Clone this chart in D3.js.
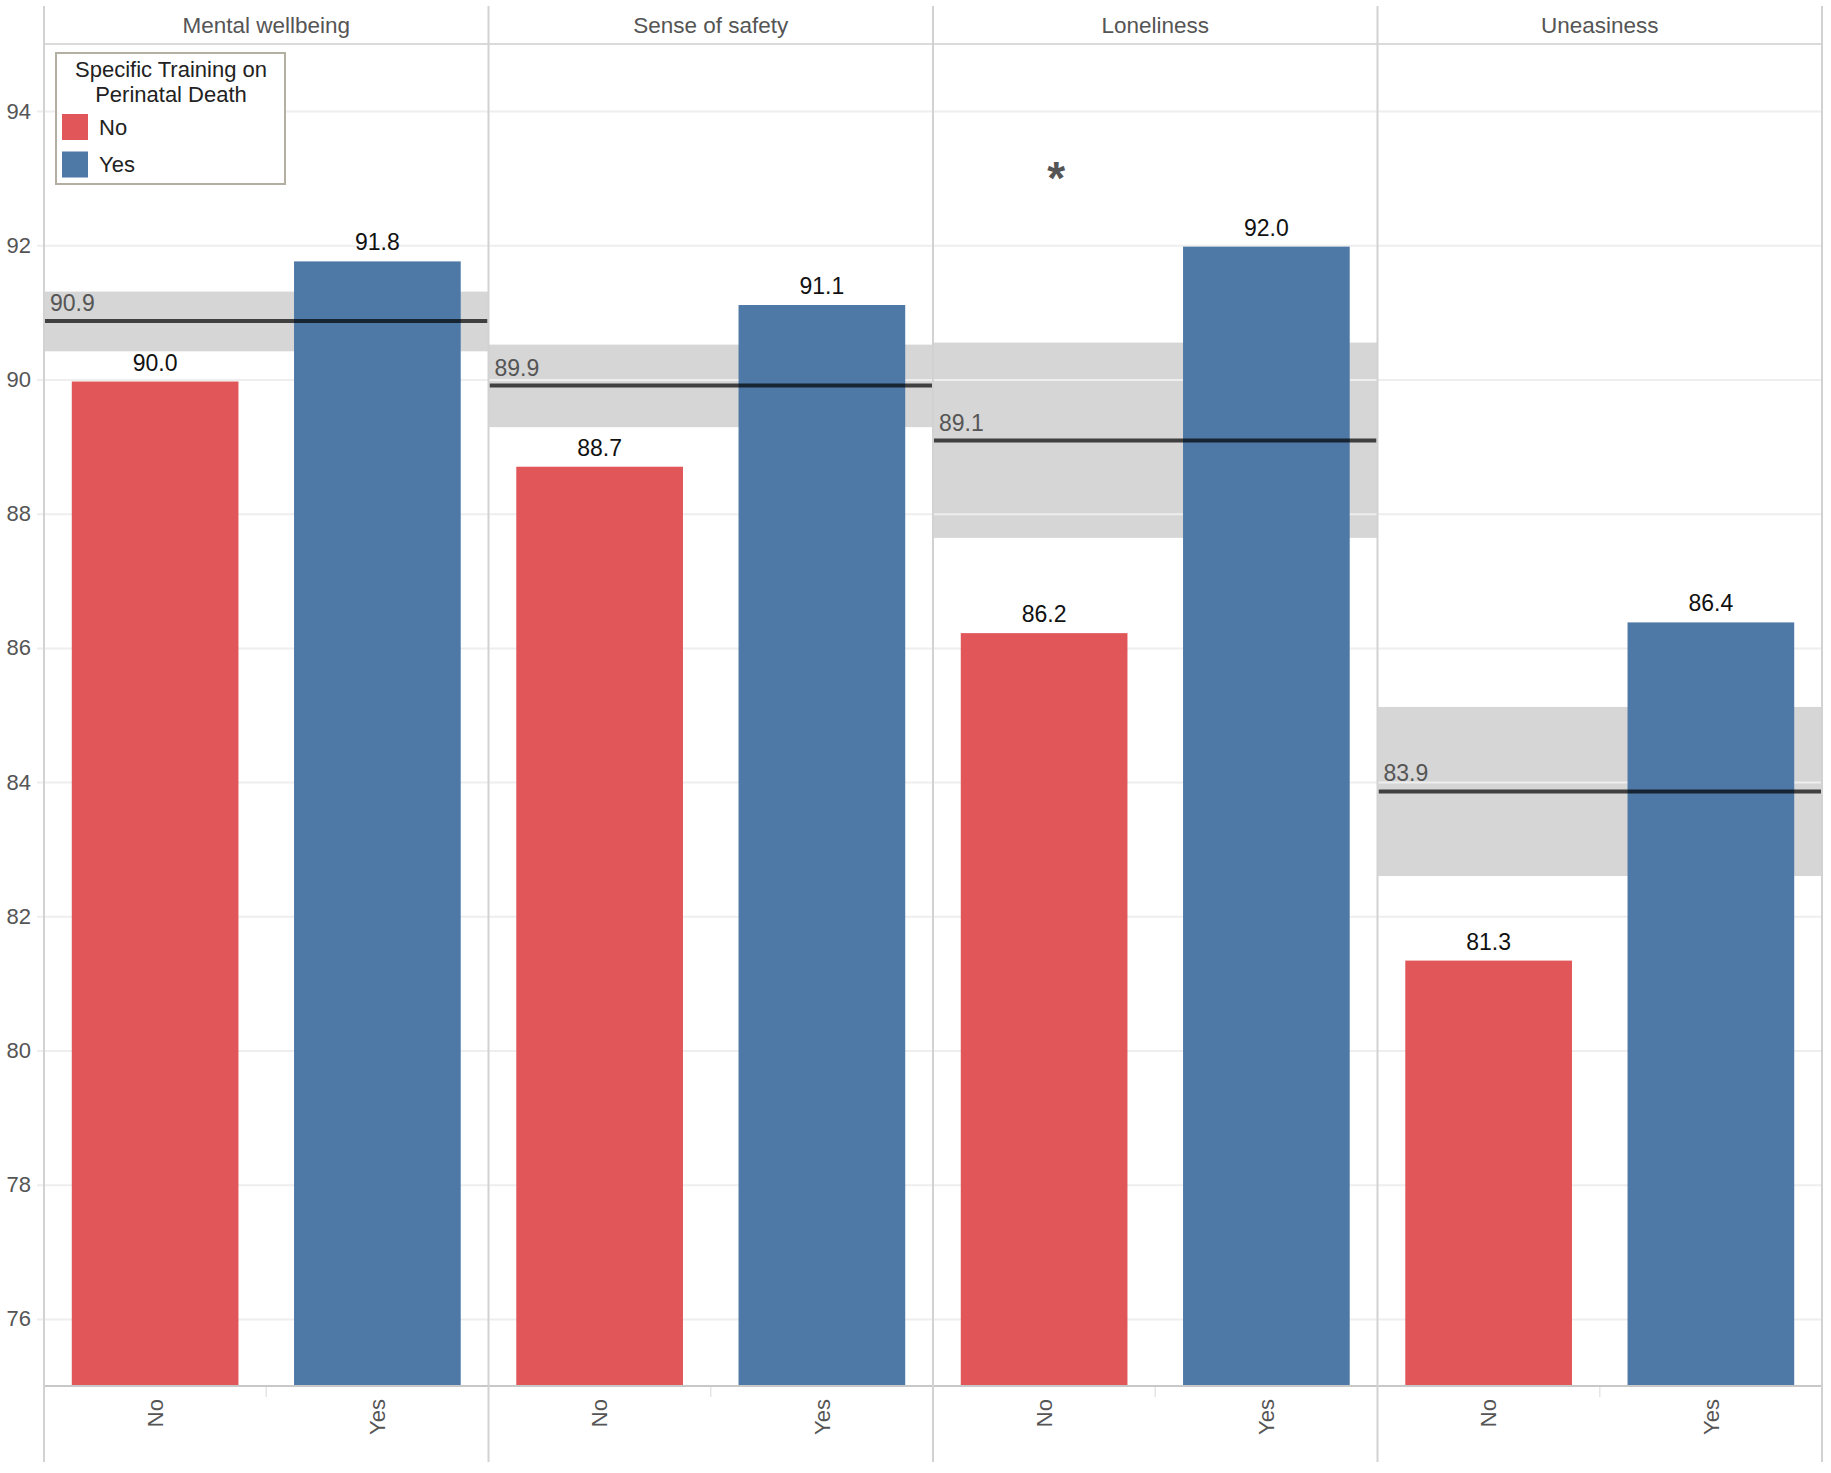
<!DOCTYPE html>
<html>
<head>
<meta charset="utf-8">
<script src="https://cdn.jsdelivr.net/npm/d3@7"></script>
<style>
  body { margin: 0; background: #fff; }
  svg { font-family: "Liberation Sans", Arial, sans-serif; }
</style>
</head>
<body>
<svg id="chart"></svg>
<script>
// Data
const measures = ['Mental wellbeing', 'Sense of safety', 'Loneliness', 'Uneasiness'];
const groups = ['No', 'Yes'];
const noValues = [89.97, 88.70, 86.22, 81.34];
const yesValues = [91.76, 91.11, 91.98, 86.38];
const refMean = [90.87, 89.91, 89.09, 83.86];
const refLow = [90.42, 89.29, 87.64, 82.60];
const refHigh = [91.31, 90.52, 90.55, 85.12];
const significance = ['', '', '*', ''];
const yTicks = [76, 78, 80, 82, 84, 86, 88, 90, 92, 94];
const legendTitle = ['Specific Training on', 'Perinatal Death'];

// Layout
const width = 1831, height = 1473;
const plot = { left: 44, right: 1822, top: 44, bottom: 1386, headerTop: 6, footer: 1462 };
const colors = { No: '#e15759', Yes: '#4e79a7' };
const fmt = d3.format('.1f');

const svg = d3.select('#chart').attr('width', width).attr('height', height);

// Scales
const x = d3.scaleBand().domain(measures).range([plot.left, plot.right]);
const xInner = d3.scaleBand().domain(groups).range([0, x.bandwidth()])
    .paddingInner(0.25).paddingOuter(0.125);
const y = d3.scaleLinear().domain([75, 95]).range([plot.bottom, plot.top]);

const rows = measures.map((m, i) => ({
    measure: m,
    bars: [{ g: 'No', v: noValues[i] }, { g: 'Yes', v: yesValues[i] }],
    mean: refMean[i], low: refLow[i], high: refHigh[i], sig: significance[i]
}));

// Reference bands (behind gridlines)
svg.append('g').selectAll('rect')
    .data(rows).enter().append('rect')
    .attr('x', d => x(d.measure))
    .attr('width', x.bandwidth())
    .attr('y', d => y(d.high))
    .attr('height', d => y(d.low) - y(d.high))
    .attr('fill', '#d6d6d6');

// Gridlines + y labels
const yAxis = svg.append('g')
    .attr('transform', `translate(${plot.left},0)`)
    .call(d3.axisLeft(y).tickValues(yTicks).tickSize(-(plot.right - plot.left)).tickPadding(13));
yAxis.select('.domain').remove();
yAxis.selectAll('.tick line').attr('stroke', '#eeeeee').attr('stroke-width', 2).attr('x1', -7);
yAxis.selectAll('.tick text').attr('fill', '#555').style('font-size', '22px');

// Bars
const panels = svg.append('g').selectAll('g')
    .data(rows).enter().append('g')
    .attr('transform', d => `translate(${x(d.measure)},0)`);

panels.selectAll('rect')
    .data(d => d.bars).enter().append('rect')
    .attr('x', d => xInner(d.g))
    .attr('width', xInner.bandwidth())
    .attr('y', d => y(d.v))
    .attr('height', d => y(75) - y(d.v))
    .attr('fill', d => colors[d.g]);

panels.selectAll('.bar-label')
    .data(d => d.bars).enter().append('text')
    .attr('class', 'bar-label')
    .attr('x', d => xInner(d.g) + xInner.bandwidth() / 2)
    .attr('y', d => y(d.v) - 11)
    .attr('text-anchor', 'middle')
    .attr('fill', '#111')
    .style('font-size', '23px')
    .text(d => fmt(d.v));

// Mean lines
panels.append('line')
    .attr('x1', 1).attr('x2', x.bandwidth() - 1)
    .attr('y1', d => y(d.mean)).attr('y2', d => y(d.mean))
    .attr('stroke', 'rgba(0,0,0,0.7)')
    .attr('stroke-width', 4);

panels.append('text')
    .attr('x', 6)
    .attr('y', d => y(d.mean) - 10)
    .attr('fill', '#555')
    .style('font-size', '23px')
    .text(d => fmt(d.mean));

// Significance marker
panels.filter(d => d.sig).append('text')
    .attr('x', xInner('No') + xInner.bandwidth() / 2 + 12)
    .attr('y', 194)
    .attr('text-anchor', 'middle')
    .attr('fill', '#555')
    .style('font-size', '46px')
    .style('font-weight', 'bold')
    .text(d => d.sig);

// Panel headers
panels.append('text')
    .attr('x', x.bandwidth() / 2)
    .attr('y', 33)
    .attr('text-anchor', 'middle')
    .attr('fill', '#555')
    .style('font-size', '22.5px')
    .text(d => d.measure);

// X axis (rotated category labels)
panels.each(function() {
    const g = d3.select(this).append('g')
        .attr('transform', `translate(0,${plot.bottom})`)
        .call(d3.axisBottom(xInner).tickSize(0).tickPadding(0));
    g.select('.domain').remove();
    g.selectAll('.tick text')
        .attr('transform', 'rotate(-90)')
        .attr('x', -13).attr('y', 0).attr('dy', '0.35em')
        .attr('text-anchor', 'end')
        .attr('fill', '#555')
        .style('font-size', '22px');
});
panels.append('line')
    .attr('x1', x.bandwidth() / 2).attr('x2', x.bandwidth() / 2)
    .attr('y1', plot.bottom).attr('y2', plot.bottom + 11)
    .attr('stroke', '#e6e6e6').attr('stroke-width', 1.5);

// Frame: header line, x axis line, panel dividers
const frame = svg.append('g').attr('stroke', '#d2d2d2').attr('stroke-width', 2);
frame.append('line').attr('x1', plot.left).attr('x2', plot.right)
    .attr('y1', plot.top).attr('y2', plot.top).attr('stroke', '#dadada');
frame.append('line').attr('x1', plot.left).attr('x2', plot.right)
    .attr('y1', plot.bottom).attr('y2', plot.bottom).attr('stroke', '#c8c8c8');
frame.selectAll('.divider')
    .data(measures.map(m => x(m)).concat([plot.right]))
    .enter().append('line')
    .attr('x1', d => d).attr('x2', d => d)
    .attr('y1', plot.headerTop).attr('y2', plot.footer);

// Legend
const legend = svg.append('g').attr('transform', 'translate(56,53)');
legend.append('rect')
    .attr('width', 229).attr('height', 131)
    .attr('fill', '#fff').attr('stroke', '#b3b0a3').attr('stroke-width', 2);
legend.selectAll('.lt')
    .data(legendTitle).enter().append('text')
    .attr('x', 115).attr('y', (d, i) => 24 + i * 25)
    .attr('text-anchor', 'middle')
    .attr('fill', '#222')
    .style('font-size', '22px')
    .text(d => d);
const items = legend.selectAll('.li')
    .data(groups).enter().append('g')
    .attr('transform', (d, i) => `translate(6,${61 + i * 37.5})`);
items.append('rect').attr('width', 26).attr('height', 26).attr('fill', d => colors[d]);
items.append('text').attr('x', 37).attr('y', 13).attr('dy', '0.36em')
    .attr('fill', '#222').style('font-size', '22px').text(d => d);
</script>
</body>
</html>
